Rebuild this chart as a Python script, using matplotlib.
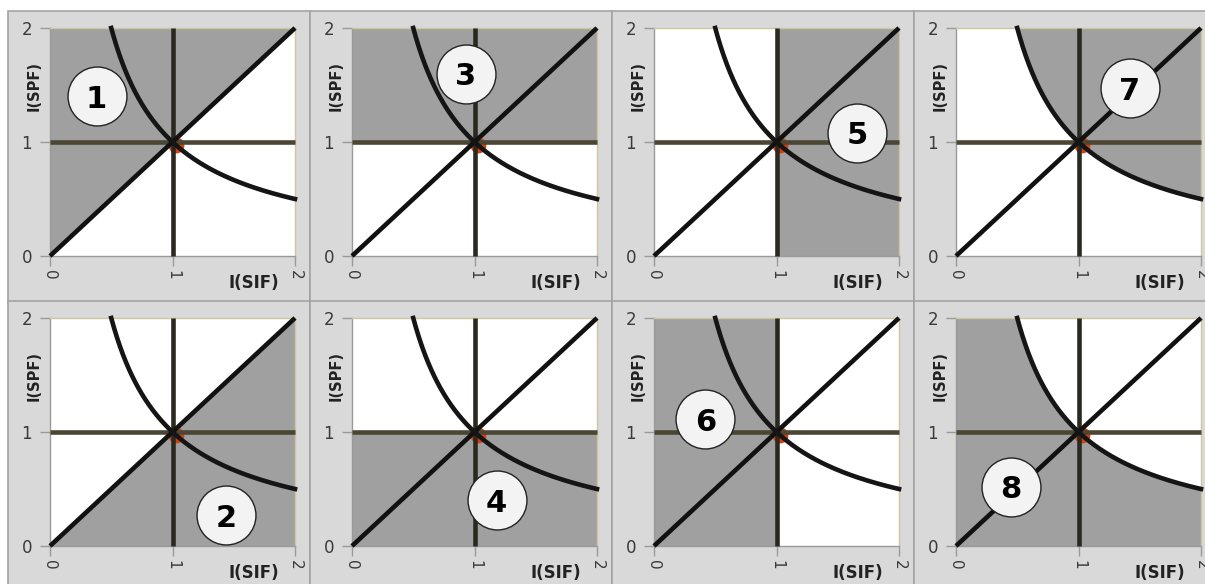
import numpy as np
import matplotlib.pyplot as plt
from matplotlib.patches import Rectangle

# panel order, row by row
panel_numbers = [1, 3, 5, 7, 2, 4, 6, 8]
shaded_regions = ['above_diagonal', 'above_horizontal', 'right_of_vertical', 'above_curve',
                  'below_diagonal', 'below_horizontal', 'left_of_vertical', 'below_curve']
badge_x = [0.38, 0.93, 1.66, 1.42, 1.44, 1.18, 0.42, 0.45]
badge_y = [1.40, 1.60, 1.08, 1.47, 0.27, 0.40, 1.11, 0.52]

ticks = [0, 1, 2]
tick_labels = ['0', '1', '2']
ref_sif, ref_spf = 1.0, 1.0      # reference point I(SIF)=1, I(SPF)=1
iso_product = 1.0                # I(SIF) * I(SPF) = 1
axis_max = 2.0

W, H = 1205, 584
fig = plt.figure(figsize=(W / 100, H / 100), dpi=100, facecolor='white')
plt.rcParams['font.family'] = 'DejaVu Sans'

# grey cells behind each panel
cell_left = [8, 310, 612, 914]
cell_top = [11, 301]
for top in cell_top:
    for left in cell_left:
        fig.patches.append(Rectangle((left / W, 1 - (top + 292) / H), 302 / W, 292 / H,
                                     transform=fig.transFigure, facecolor='#d9d9d9',
                                     edgecolor='#a3a3a3', lw=1.2, zorder=-5))

ax_left = [50, 352, 654, 956]
ax_bottom = [256, 546]
ax_w, ax_h = 245, 228

xs = np.linspace(0, axis_max, 600)
curve_x = np.linspace(iso_product / axis_max, axis_max, 300)
curve_y = iso_product / curve_x
capped = np.minimum(iso_product / np.maximum(xs, 1e-9), axis_max)

for i, (num, region) in enumerate(zip(panel_numbers, shaded_regions)):
    r, c = divmod(i, 4)
    ax = fig.add_axes([ax_left[c] / W, 1 - ax_bottom[r] / H, ax_w / W, ax_h / H])
    ax.set_facecolor('white')
    ax.set_xlim(0, axis_max)
    ax.set_ylim(0, axis_max)

    shade = dict(color='#a0a0a0', lw=0, zorder=1)
    if region == 'above_diagonal':
        ax.fill_between(xs, xs, axis_max, **shade)
    elif region == 'below_diagonal':
        ax.fill_between(xs, 0, xs, **shade)
    elif region == 'above_horizontal':
        ax.fill_between(xs, ref_spf, axis_max, **shade)
    elif region == 'below_horizontal':
        ax.fill_between(xs, 0, ref_spf, **shade)
    elif region == 'right_of_vertical':
        ax.fill_betweenx(xs, ref_sif, axis_max, **shade)
    elif region == 'left_of_vertical':
        ax.fill_betweenx(xs, 0, ref_sif, **shade)
    elif region == 'above_curve':
        ax.fill_between(xs, capped, axis_max, **shade)
    elif region == 'below_curve':
        ax.fill_between(xs, 0, capped, **shade)

    # reference point, mostly hidden under the crossing lines
    ax.scatter([ref_sif + 0.025], [ref_spf - 0.025], s=130, color='#d6400f',
               zorder=2, lw=0)

    lw = 3.3
    ax.plot([0, axis_max], [ref_spf, ref_spf], color='#4a4633', lw=lw,
            solid_capstyle='butt', zorder=3, clip_on=False)
    ax.plot([ref_sif, ref_sif], [0, axis_max], color='#2a2920', lw=lw,
            solid_capstyle='butt', zorder=3, clip_on=False)
    ax.plot([0, axis_max], [0, axis_max], color='#111111', lw=lw,
            solid_capstyle='butt', zorder=4, clip_on=False)
    ax.plot(curve_x, curve_y, color='#151515', lw=lw, zorder=4, clip_on=False)

    # numbered badge
    ax.scatter([badge_x[i]], [badge_y[i]], s=1800, facecolor='#f3f3f3',
               edgecolor='#222222', lw=1.0, zorder=6)
    ax.text(badge_x[i], badge_y[i], str(num), ha='center', va='center_baseline',
            fontsize=22, fontweight='bold', color='black', zorder=7)

    ax.set_xticks(ticks)
    ax.set_xticklabels(tick_labels, rotation=270)
    ax.set_yticks(ticks)
    ax.set_yticklabels(tick_labels)
    ax.tick_params(length=7, width=1, color='#9a9a9a', labelcolor='#3a3a3a',
                   labelsize=11, pad=3)
    ax.tick_params(axis='y', labelsize=12, pad=6)

    for side in ('left', 'bottom'):
        ax.spines[side].set_color('#9a9a9a')
        ax.spines[side].set_linewidth(1)
    for side in ('top', 'right'):
        ax.spines[side].set_color('#cfc59f')
        ax.spines[side].set_linewidth(1)

    ax.text(-0.065, 0.745, 'I(SPF)', transform=ax.transAxes, rotation=90,
            ha='center', va='center', fontsize=10.5, fontweight='bold', color='#222222')
    ax.text(0.83, -0.118, 'I(SIF)', transform=ax.transAxes, ha='center',
            va='center', fontsize=12, fontweight='bold', color='#222222')

fig.savefig('out.png', dpi=100, facecolor='white')
